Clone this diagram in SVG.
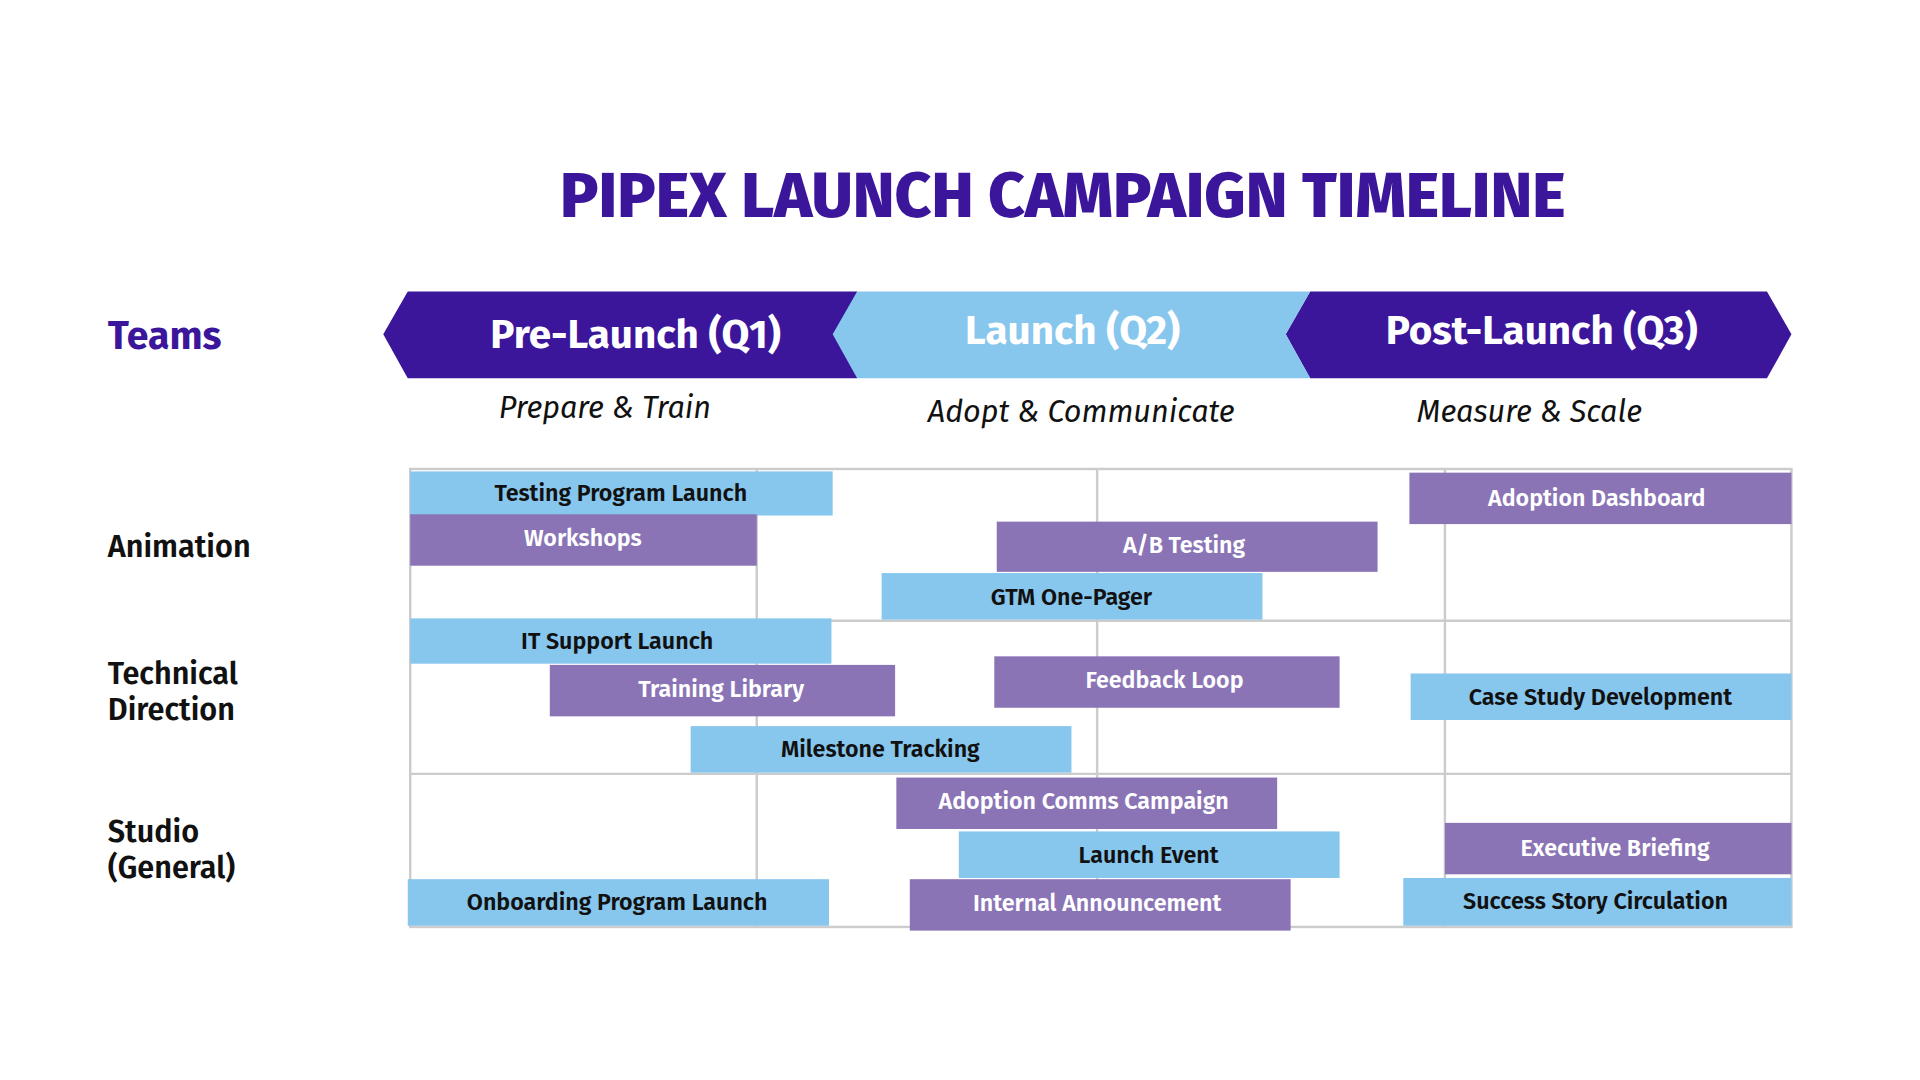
<svg xmlns="http://www.w3.org/2000/svg" width="1920" height="1080" viewBox="0 0 1920 1080">
<style>
text{font-family:"Fira Sans","Noto Sans","Open Sans",sans-serif}
.b{fill:#87c6ed}.p{fill:#8a74b6}
.bt{font-size:19px;font-weight:600;fill:#111;text-anchor:middle}
.pt{font-size:19px;font-weight:600;fill:#fff;text-anchor:middle}
.team{font-size:25px;font-weight:600;fill:#111}
.sub{font-size:25px;font-style:italic;fill:#111;text-anchor:middle}
.ph{font-size:33px;font-weight:700;fill:#fff;text-anchor:middle}
.g{stroke:#cccccc;stroke-width:2;fill:none}
</style>
<rect width="1920" height="1080" fill="#fff"/>
<g transform="scale(1.2245)">
<text x="868" y="177" font-size="52" font-weight="800" fill="#3b169b" text-anchor="middle">PIPEX LAUNCH CAMPAIGN TIMELINE</text>
<text x="88" y="285" font-size="32" font-weight="700" fill="#3b169b">Teams</text>
<g id="phases">
<polygon points="333,238 700,238 700,309 333,309 313,273" fill="#3b169b"/>
<polygon points="1070,238 1443,238 1463,273 1443,309 1070,309 1050,273" fill="#3b169b"/>
<polygon points="700,238 1070,238 1050,273 1070,309 700,309 680,273" fill="#87c6ed"/>
<text class="ph" x="519" y="284">Pre-Launch (Q1)</text>
<text class="ph" x="876" y="281">Launch (Q2)</text>
<text class="ph" x="1259" y="281">Post-Launch (Q3)</text>
<text class="sub" x="494" y="341">Prepare &amp; Train</text>
<text class="sub" x="883" y="345">Adopt &amp; Communicate</text>
<text class="sub" x="1249" y="345">Measure &amp; Scale</text>
</g>
<g id="grid">
<rect class="g" x="335" y="383" width="1128" height="374"/>
<line class="g" x1="335" y1="507" x2="1463" y2="507"/>
<line class="g" x1="335" y1="632" x2="1463" y2="632"/>
<line class="g" x1="618" y1="383" x2="618" y2="757"/>
<line class="g" x1="896" y1="383" x2="896" y2="757"/>
<line class="g" x1="1180" y1="383" x2="1180" y2="757"/>
</g>
<g id="teams">
<text class="team" x="88" y="455">Animation</text>
<text class="team" x="88" y="559">Technical</text>
<text class="team" x="88" y="588">Direction</text>
<text class="team" x="88" y="688">Studio</text>
<text class="team" x="88" y="717">(General)</text>
</g>
<g id="bar1"><rect class="b" x="335" y="385" width="345" height="36"/><text class="bt" x="507" y="409">Testing Program Launch</text></g>
<g id="bar2"><rect class="p" x="335" y="420" width="283" height="42"/><text class="pt" x="476" y="446">Workshops</text></g>
<g id="bar3"><rect class="p" x="1151" y="386" width="312" height="42"/><text class="pt" x="1304" y="413">Adoption Dashboard</text></g>
<g id="bar4"><rect class="p" x="814" y="426" width="311" height="41"/><text class="pt" x="967" y="452">A/B Testing</text></g>
<g id="bar5"><rect class="b" x="720" y="468" width="311" height="38"/><text class="bt" x="875" y="494">GTM One-Pager</text></g>
<g id="bar6"><rect class="b" x="335" y="505" width="344" height="37"/><text class="bt" x="504" y="530">IT Support Launch</text></g>
<g id="bar7"><rect class="p" x="449" y="543" width="282" height="42"/><text class="pt" x="589" y="569">Training Library</text></g>
<g id="bar8"><rect class="p" x="812" y="536" width="282" height="42"/><text class="pt" x="951" y="562">Feedback Loop</text></g>
<g id="bar9"><rect class="b" x="1152" y="550" width="311" height="38"/><text class="bt" x="1307" y="576">Case Study Development</text></g>
<g id="bar10"><rect class="b" x="564" y="593" width="311" height="38"/><text class="bt" x="719" y="618">Milestone Tracking</text></g>
<g id="bar11"><rect class="p" x="732" y="635" width="311" height="42"/><text class="pt" x="885" y="661">Adoption Comms Campaign</text></g>
<g id="bar12"><rect class="p" x="1180" y="672" width="283" height="42"/><text class="pt" x="1319" y="699">Executive Briefing</text></g>
<g id="bar13"><rect class="b" x="783" y="679" width="311" height="38"/><text class="bt" x="938" y="705">Launch Event</text></g>
<g id="bar14"><rect class="b" x="333" y="718" width="344" height="38"/><text class="bt" x="504" y="743">Onboarding Program Launch</text></g>
<g id="bar15"><rect class="p" x="743" y="718" width="311" height="42"/><text class="pt" x="896" y="744">Internal Announcement</text></g>
<g id="bar16"><rect class="b" x="1146" y="717" width="317" height="39"/><text class="bt" x="1303" y="742">Success Story Circulation</text></g>
</g>
</svg>
